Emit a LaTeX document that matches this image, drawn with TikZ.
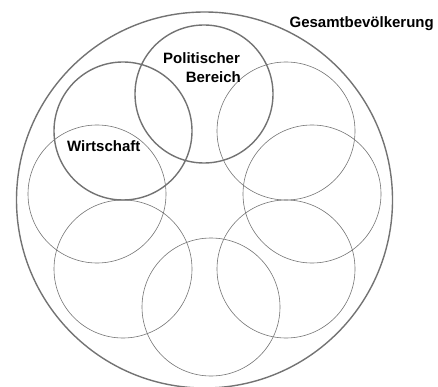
\documentclass[tikz,border=0pt]{standalone}
\usepackage{fontspec}
\setmainfont{Liberation Sans}
\begin{document}
\begin{tikzpicture}[x=1pt,y=-1pt,
  outer/.style={draw=black!55, line width=1.4pt},
  thickc/.style={draw=black!55, line width=1.4pt},
  thinc/.style={draw=black!55, line width=0.6pt},
  lbl/.style={inner sep=0pt, font=\fontsize{15}{18}\selectfont\bfseries, text=black}]
\useasboundingbox (0,0) rectangle (438,387);
\draw[outer] (204.5,200) circle[radius=188];
\draw[thinc] (286,131) circle[radius=69];
\draw[thinc] (312,194) circle[radius=69];
\draw[thinc] (286,269) circle[radius=69];
\draw[thinc] (211,307) circle[radius=69];
\draw[thinc] (123,269) circle[radius=69];
\draw[thinc] (97,194) circle[radius=69];
\draw[thickc] (123,131) circle[radius=69];
\draw[thickc] (204,94) circle[radius=69];
\node[lbl, anchor=base east] (ges) at (434,28) {Gesamtbevölkerung};
\node[lbl, anchor=base west] (pol) at (163,64) {Politischer};
\node[lbl, anchor=base east] (ber) at (241,83) {Bereich};
\node[lbl, anchor=base west] (wir) at (67,152) {Wirtschaft};
\end{tikzpicture}
\end{document}
